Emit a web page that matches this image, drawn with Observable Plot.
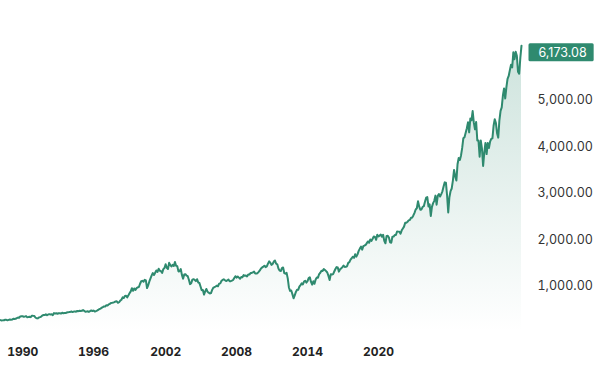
<!DOCTYPE html>
<html><head><meta charset="utf-8">
<script src="https://cdn.jsdelivr.net/npm/d3@7"></script>
<script src="https://cdn.jsdelivr.net/npm/@observablehq/plot@0.6"></script>
<style>
html,body{margin:0;padding:0;background:#fff;}
#chart{width:616px;height:380px;}
</style></head><body><div id="chart"></div>
<script>
// Monthly closes, starting Feb 1988
const startYear = 1988, startMonth = 2;
const closes1988to1995 = [
  267, 259, 261, 262, 274, 272, 262, 272, 279, 274, 278,
  297, 289, 295, 310, 321, 318, 346, 351, 349, 340, 346, 353,
  329, 332, 340, 331, 361, 358, 356, 323, 306, 304, 322, 330,
  344, 367, 375, 375, 390, 371, 388, 395, 388, 392, 375, 417,
  409, 413, 404, 415, 415, 408, 424, 414, 418, 419, 431, 436,
  439, 443, 452, 440, 450, 451, 448, 464, 459, 468, 462, 466,
  482, 467, 446, 451, 457, 444, 458, 475, 463, 472, 454, 459,
  470, 487, 501, 515, 533, 545, 562, 562, 584, 582, 605, 616
];
const closes1996to2005 = [
  636, 640, 646, 654, 669, 671, 640, 652, 687, 705, 757, 741,
  786, 791, 757, 801, 848, 885, 954, 899, 947, 915, 955, 970,
  980, 1049, 1102, 1112, 1091, 1134, 1121, 957, 1017, 1099, 1164, 1229,
  1280, 1238, 1286, 1335, 1302, 1373, 1329, 1320, 1283, 1363, 1389, 1469,
  1394, 1366, 1499, 1452, 1421, 1455, 1431, 1518, 1437, 1429, 1315, 1320,
  1366, 1240, 1160, 1249, 1256, 1224, 1211, 1134, 1041, 1060, 1139, 1148,
  1130, 1107, 1147, 1077, 1067, 990, 912, 916, 815, 886, 936, 880,
  856, 841, 848, 917, 964, 975, 990, 1008, 996, 1051, 1058, 1112,
  1131, 1145, 1126, 1107, 1121, 1141, 1102, 1104, 1115, 1130, 1174, 1212,
  1181, 1204, 1181, 1157, 1192, 1191, 1234, 1220, 1229, 1207, 1249, 1248
];
const closes2006to2015 = [
  1280, 1281, 1295, 1311, 1270, 1270, 1277, 1304, 1336, 1378, 1401, 1418,
  1438, 1407, 1421, 1482, 1531, 1503, 1455, 1474, 1527, 1549, 1481, 1468,
  1379, 1331, 1323, 1386, 1400, 1280, 1267, 1283, 1165, 969, 896, 903,
  826, 735, 798, 873, 919, 919, 987, 1021, 1057, 1036, 1096, 1115,
  1074, 1104, 1169, 1187, 1089, 1031, 1102, 1049, 1141, 1183, 1181, 1258,
  1286, 1327, 1326, 1364, 1345, 1321, 1292, 1219, 1131, 1253, 1247, 1258,
  1312, 1366, 1408, 1398, 1310, 1362, 1379, 1407, 1441, 1412, 1416, 1426,
  1498, 1515, 1569, 1598, 1631, 1606, 1686, 1633, 1682, 1757, 1806, 1848,
  1783, 1859, 1872, 1884, 1924, 1960, 1931, 2003, 1972, 2018, 2068, 2059,
  1995, 2105, 2068, 2086, 2107, 2063, 2104, 1972, 1920, 2079, 2080, 2044
];
const closes2016to2025 = [
  1940, 1932, 2060, 2065, 2097, 2099, 2174, 2171, 2168, 2126, 2199, 2239,
  2279, 2364, 2363, 2384, 2412, 2423, 2470, 2472, 2519, 2575, 2648, 2674,
  2824, 2714, 2641, 2648, 2705, 2718, 2816, 2902, 2914, 2712, 2760, 2507,
  2704, 2784, 2834, 2946, 2752, 2942, 2980, 2926, 2977, 3038, 3141, 3231,
  3226, 2954, 2585, 2912, 3044, 3100, 3271, 3500, 3363, 3270, 3622, 3756,
  3714, 3811, 3973, 4181, 4204, 4298, 4395, 4523, 4308, 4605, 4567, 4766,
  4516, 4374, 4530, 4132, 4132, 3785, 4130, 3955, 3586, 3872, 4080, 3840,
  4077, 3970, 4109, 4169, 4180, 4450, 4589, 4508, 4288, 4194, 4568, 4770,
  4846, 5096, 5254, 5036, 5278, 5460, 5522, 5648, 5762, 5705, 6032, 5882,
  6041, 5955, 5612, 5570, 5912, 6173.08
];
const yTicks = [1000, 2000, 3000, 4000, 5000];
const xTickLabels = ["1990", "1996", "2002", "2008", "2014", "2020"];
const xTickAt = [1989.67, 1994.75, 1999.92, 2005.0, 2010.08, 2015.17];

const values = [].concat(closes1988to1995, closes1996to2005, closes2006to2015, closes2016to2025);
const data = values.map((v, i) => ({ t: startYear + (startMonth - 1 + i) / 12, v }));
const last = data[data.length - 1];

const lineColor = "#2f8a6f";
const gradId = "areaGrad";
const defs = () => {
  const d = d3.create("svg:defs");
  const g = d.append("linearGradient").attr("id", gradId)
    .attr("x1", 0).attr("y1", 0).attr("x2", 0).attr("y2", 1);
  g.append("stop").attr("offset", "0%").attr("stop-color", lineColor).attr("stop-opacity", 0.24);
  g.append("stop").attr("offset", "100%").attr("stop-color", lineColor).attr("stop-opacity", 0.0);
  return d.node();
};
const fmt = d3.format(",.2f");

const plot = Plot.plot({
  width: 616, height: 380,
  marginLeft: 0, marginRight: 95, marginTop: 30, marginBottom: 48,
  style: { fontFamily: "Inter, sans-serif", fontSize: "12px", background: "#fff", overflow: "visible" },
  x: { type: "linear", domain: [data[0].t, last.t] },
  y: { domain: [0, 6500] },
  marks: [
    defs,
    Plot.areaY(data, { x: "t", y: "v", fill: `url(#${gradId})` }),
    Plot.lineY(data, { x: "t", y: "v", stroke: lineColor, strokeWidth: 2, strokeLinejoin: "round" }),
    Plot.axisX({ ticks: xTickAt, tickFormat: d => xTickLabels[xTickAt.indexOf(d)], tickSize: 0, tickPadding: 15, fontWeight: "bold", fill: "#222", label: null }),
    Plot.axisY({ anchor: "right", ticks: yTicks, tickFormat: fmt, tickSize: 0, tickPadding: 16, fill: "#333", fontSize: 12.5, label: null }),
    Plot.text([last], { x: "t", y: "v", text: d => fmt(d.v), dx: 17, dy: 7, textAnchor: "start", fill: "#fff", fontSize: 12.5, className: "last-label" })
  ]
});
document.getElementById("chart").appendChild(plot);

// badge behind last value
const txt = plot.querySelector(".last-label text");
if (txt) {
  const bb = txt.getBBox();
  const cy = bb.y + bb.height / 2;
  const rect = document.createElementNS("http://www.w3.org/2000/svg", "rect");
  rect.setAttribute("x", bb.x - 10);
  rect.setAttribute("y", cy - 9);
  rect.setAttribute("width", bb.width + 17);
  rect.setAttribute("height", 18);
  rect.setAttribute("rx", 1.5);
  rect.setAttribute("fill", lineColor);
  const tr = txt.getAttribute("transform");
  if (tr) rect.setAttribute("transform", tr);
  txt.parentNode.insertBefore(rect, txt);
}
</script>
</body></html>
